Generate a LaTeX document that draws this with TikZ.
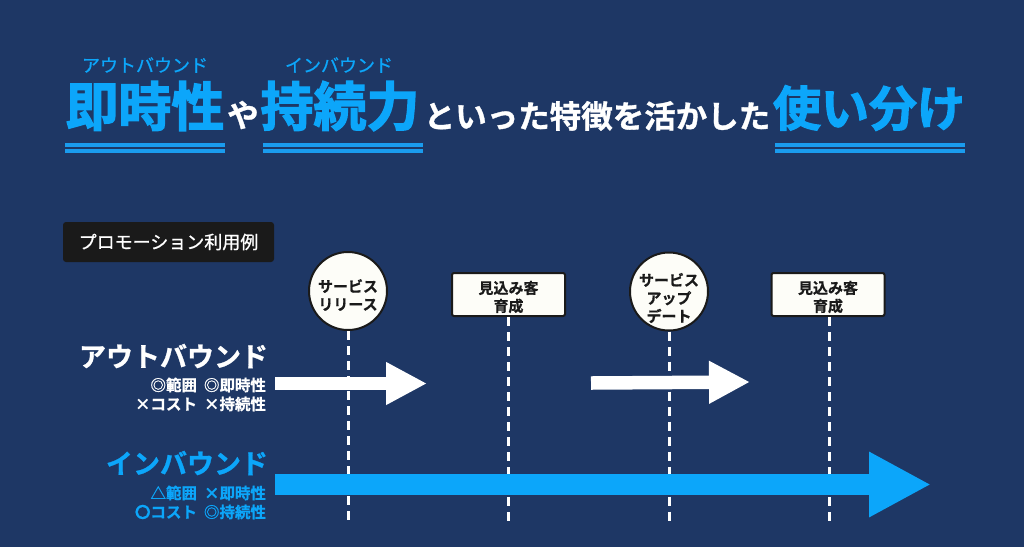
\documentclass[tikz,border=0pt]{standalone}
\usepackage{fontspec}
\usetikzlibrary{arrows.meta}
\setmainfont{Noto Sans CJK JP}[BoldFont={* Bold}]
\newfontfamily\heavyfont{Noto Sans CJK JP Bold}[FakeBold=2.4]
\newfontfamily\boldfont{Noto Sans CJK JP Bold}[FakeBold=0.8]
\newfontfamily\semifont{Noto Sans CJK JP Bold}[FakeBold=1.0]
\newfontfamily\regfont{Noto Sans CJK JP}[FakeBold=0.8]
\definecolor{bgnavy}{HTML}{1E3765}
\definecolor{skyblue}{HTML}{0CA6FA}
\definecolor{rulesky}{HTML}{1A9CEE}
\definecolor{ivory}{HTML}{FDFDF8}
\definecolor{inkblack}{HTML}{1A1A1A}
\newcommand{\fsz}[2]{\fontsize{#1pt}{#2pt}\selectfont}
\newcommand{\gapsp}{\hspace{7pt}}
\tikzset{
  x=1pt,y=-1pt,
  txt/.style={inner sep=0pt,outer sep=0pt,align=center},
  titlekanji/.style={txt,text=skyblue,font=\heavyfont\fsz{53}{53}},
  titlekana/.style={txt,text=skyblue,font=\heavyfont\fsz{48}{48}},
  titlewhite/.style={txt,text=white,font=\semifont\fsz{31.5}{32}},
  rubytext/.style={txt,text=skyblue,font=\regfont\fsz{18}{18}},
  rulebar/.style={line width=4pt,rulesky},
  circlenode/.style={circle,draw=inkblack,fill=ivory,line width=2pt,minimum size=78pt,inner sep=0pt},
  boxnode/.style={rectangle,rounded corners=2pt,draw=inkblack,fill=ivory,line width=2pt,minimum width=113pt,minimum height=43pt,inner sep=0pt},
  marktext/.style={txt,font=\boldfont\fsz{15}{18},text=inkblack},
  guide/.style={white,line width=3pt,dash pattern=on 9pt off 6pt},
  whitearrow/.style={white,line width=13.5pt,-{Triangle[length=41pt,width=40pt]}},
  bluearrow/.style={skyblue,line width=21pt,-{Triangle[length=62pt,width=61pt]}},
  headlabel/.style={txt,font=\semifont\fsz{27}{27},anchor=east},
  sublabel/.style={txt,font=\boldfont\fsz{15.5}{16},anchor=east},
}
\begin{document}
\begin{tikzpicture}
\useasboundingbox (0,0) rectangle (1024,547);
\fill[bgnavy] (0,0) rectangle (1024,547);

% title
\node[rubytext] (rubyout) at (145,65) {アウトバウンド};
\node[rubytext] (rubyin) at (339,65) {インバウンド};
\node[titlekanji] (tsokuji) at (145,106) {即時性};
\node[titlewhite] (tya) at (243,115) {や};
\node[titlekanji] (tjizoku) at (340,106) {持続力};
\node[titlewhite] (tmid) at (597,116) {といった特徴を活かした};
\node[titlekana] (tuse) at (869,108) {使い分け};
\foreach \a/\b in {65/225,263/423,775/965}{
  \draw[rulebar] (\a,145) -- (\b,145);
  \draw[rulebar] (\a,151) -- (\b,151);
}

% tag
\node[rectangle,rounded corners=3pt,fill=inkblack,minimum width=211pt,minimum height=40pt,inner sep=0pt,text=white,font=\regfont\fsz{18}{18}] (tag) at (168.5,242) {プロモーション利用例};

% milestones
\node[circlenode] (rel) at (348,291) {};
\node[boxnode] (nur1) at (508.5,294.5) {};
\node[circlenode] (upd) at (669,291.5) {};
\node[boxnode] (nur2) at (828,294.5) {};
\node[marktext] (reltxt) at (348,295) {サービス\\リリース};
\node[marktext] (nur1txt) at (508.5,297) {見込み客\\育成};
\node[marktext] (updtxt) at (669,298) {サービス\\アップ\\デート};
\node[marktext] (nur2txt) at (828,297) {見込み客\\育成};

\coordinate (relend) at (348,521);
\coordinate (nur1end) at (508.5,521);
\coordinate (updend) at (669,521);
\coordinate (nur2end) at (829.5,521);
\draw[guide] (rel.south) -- (relend);
\draw[guide] (nur1.south) -- (nur1end);
\draw[guide] (upd.south) -- (updend);
\draw[guide] (nur2.south -| nur2end) -- (nur2end);

% arrows
\coordinate (o1s) at (275,383.5);
\coordinate (o1e) at (427,383.5);
\coordinate (o2s) at (591,383);
\coordinate (o2e) at (750,382);
\coordinate (ins) at (275,484.5);
\coordinate (ine) at (931,484.5);
\draw[whitearrow] (o1s) -- (o1e);
\draw[whitearrow] (o2s) -- (o2e);
\draw[bluearrow] (ins) -- (ine);

% left labels
\node[headlabel,text=white] (outh) at (268,356) {アウトバウンド};
\node[sublabel,text=white] (outa) at (266,385) {◎範囲\gapsp ◎即時性};
\node[sublabel,text=white] (outb) at (266,404) {×コスト\gapsp ×持続性};
\node[headlabel,text=skyblue] (inh) at (268,463) {インバウンド};
\node[sublabel,text=skyblue] (ina) at (266,493) {△範囲\gapsp ×即時性};
\node[sublabel,text=skyblue] (inb) at (266,512) {〇コスト\gapsp ◎持続性};
\end{tikzpicture}
\end{document}
